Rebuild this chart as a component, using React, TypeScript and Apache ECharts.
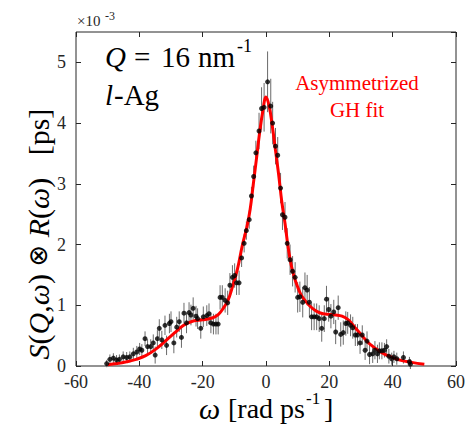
import React, { useEffect, useRef } from 'react';
import * as echarts from 'echarts';

// Measured data points: omega [rad/ps], S(Q,w)xR(w) [1e-3 ps], error bar half-height
const omega = [
  -50.3, -49.3, -48.2, -47.2, -46.3, -45.1, -44.0, -43.0, -41.9, -40.8, -39.9, -39.2,
  -38.2, -37.4, -36.4, -35.6, -35.0, -34.3, -33.7, -32.9, -31.9, -31.4, -30.5, -30.0,
  -29.1, -28.2, -27.4, -26.7, -25.9, -25.1, -24.3, -23.7, -23.0, -22.1, -21.6, -20.6,
  -19.8, -18.7, -18.0, -17.4, -16.6, -15.8, -15.1, -14.5, -13.8, -12.9, -12.1, -11.4,
  -10.6, -9.9, -9.3, -8.5, -7.7, -6.9, -6.2, -5.3, -4.6, -3.9, -3.2, -2.2, -1.4, -0.6,
  0.5, 1.5, 2.1, 3.0, 3.7, 4.6, 5.2, 6.0, 6.7, 7.6, 8.4, 9.2, 10.0, 10.7, 11.6, 12.3,
  13.0, 13.7, 14.4, 15.2, 16.0, 16.8, 17.6, 18.4, 19.1, 19.8, 20.5, 21.4, 22.0, 22.8,
  23.6, 24.4, 25.2, 25.8, 26.7, 27.4, 28.2, 28.9, 29.7, 30.4, 31.3, 31.9, 32.7, 33.7,
  34.4, 35.2, 35.8, 36.6, 37.4, 38.1, 38.8, 39.7, 40.4, 41.3, 43.4, 45.3, 45.6,
];
const sqw = [
  0.04, 0.11, 0.13, 0.10, 0.11, 0.15, 0.14, 0.15, 0.20, 0.23, 0.28, 0.26,
  0.45, 0.32, 0.32, 0.38, 0.18, 0.45, 0.62, 0.43, 0.67, 0.34, 0.70, 0.73,
  0.38, 0.64, 0.73, 0.47, 0.87, 0.71, 0.88, 0.84, 0.95, 0.82, 0.78, 0.62,
  0.81, 0.83, 0.86, 0.71, 0.69, 0.69, 0.69, 1.13, 1.13, 1.08, 1.04, 1.33,
  1.46, 1.49, 1.37, 1.37, 1.78, 2.02, 2.23, 2.41, 2.80, 3.12, 3.51, 3.87, 4.24, 4.26,
  4.68, 4.28, 4.00, 3.62, 3.47, 2.93, 2.49, 2.45, 2.02, 1.75, 1.56, 1.46, 1.13, 1.14, 1.05, 1.29,
  1.25, 1.05, 0.81, 0.81, 0.81, 0.78, 0.62, 0.78, 1.10, 0.93, 0.82, 0.89, 0.56, 0.96,
  0.52, 0.55, 0.70, 0.71, 0.67, 0.63, 0.51, 0.51, 0.38, 0.51, 0.26, 0.41, 0.19, 0.20,
  0.26, 0.20, 0.25, 0.25, 0.26, 0.32, 0.16, 0.12, 0.15, 0.12, 0.14, 0.07, 0.03,
];
const err = [
  0.06, 0.08, 0.08, 0.08, 0.08, 0.09, 0.09, 0.09, 0.10, 0.10, 0.10, 0.10,
  0.12, 0.12, 0.12, 0.14, 0.14, 0.14, 0.15, 0.15, 0.16, 0.16, 0.16, 0.17,
  0.17, 0.17, 0.17, 0.17, 0.17, 0.17, 0.17, 0.17, 0.18, 0.17, 0.17, 0.17,
  0.17, 0.17, 0.17, 0.17, 0.17, 0.17, 0.17, 0.20, 0.20, 0.20, 0.20, 0.20,
  0.20, 0.20, 0.20, 0.20, 0.15, 0.15, 0.15, 0.15, 0.15, 0.18, 0.20, 0.30, 0.35, 0.40,
  0.50, 0.45, 0.35, 0.30, 0.30, 0.25, 0.25, 0.25, 0.25, 0.25, 0.25, 0.25, 0.25, 0.25, 0.25, 0.25,
  0.25, 0.25, 0.22, 0.22, 0.22, 0.22, 0.22, 0.22, 0.22, 0.20, 0.20, 0.20, 0.20, 0.20,
  0.20, 0.20, 0.20, 0.18, 0.18, 0.18, 0.18, 0.18, 0.18, 0.16, 0.16, 0.16, 0.16, 0.15,
  0.15, 0.15, 0.14, 0.14, 0.12, 0.12, 0.12, 0.10, 0.10, 0.10, 0.10, 0.08, 0.08,
];

// Asymmetrized GH fit curve
const fitOmega = [
  -50, -47, -44, -41, -38, -35, -32, -29, -26, -23, -20, -17, -15, -13.5, -12, -10.5,
  -9, -7.5, -6, -5, -4, -3, -2, -1, 0, 1, 2, 3, 4, 5, 6, 7, 8, 9, 10, 11, 12, 14, 16,
  18, 20, 22, 24, 26, 28, 30, 32, 34, 36, 38, 42, 46, 50,
];
const fitValues = [
  0.02, 0.04, 0.07, 0.11, 0.17, 0.27, 0.40, 0.54, 0.67, 0.74, 0.76, 0.79, 0.85, 0.95, 1.08, 1.32,
  1.60, 1.98, 2.30, 2.58, 3.00, 3.42, 3.85, 4.20, 4.43, 4.28, 3.95, 3.55, 3.15, 2.70, 2.35, 1.95, 1.65, 1.45, 1.30, 1.18, 1.10, 0.98, 0.90,
  0.86, 0.85, 0.84, 0.82, 0.76, 0.64, 0.52, 0.40, 0.31, 0.24, 0.18, 0.10, 0.06, 0.03,
];

const xTicks = [-60, -40, -20, 0, 20, 40, 60];
const yTicks = [0, 1, 2, 3, 4, 5];

const FAM = "'Liberation Serif', 'Times New Roman', serif";
const AXIS = '#262626';
const font = (size: number, italic = false) => `${italic ? 'italic ' : ''}${size}px ${FAM}`;

const txt = (x: number, y: number, text: string, size: number, italic = false, fill = '#000', align = 'left') => ({
  type: 'text', x, y,
  style: { text, font: font(size, italic), fill, align, verticalAlign: 'middle' },
});

export default function App() {
  const ref = useRef<HTMLDivElement>(null);
  useEffect(() => {
    const chart = echarts.init(ref.current!, null, { renderer: 'svg' });
    const points = omega.map((w, i) => [w, sqw[i]]);
    const bars = omega.map((w, i) => [w, sqw[i] - err[i], sqw[i] + err[i]]);
    const fit = fitOmega.map((w, i) => [w, fitValues[i]]);

    const tickAxis = {
      axisLine: { show: false, onZero: false },
      axisTick: { inside: true, length: 5, lineStyle: { color: AXIS, width: 1 } },
      splitLine: { show: false },
    };

    chart.setOption({
      animation: false,
      grid: {
        left: 76, right: 14, top: 32, bottom: 60,
        show: true, borderColor: AXIS, borderWidth: 1, backgroundColor: '#fff',
      },
      xAxis: [
        {
          type: 'value', min: xTicks[0], max: xTicks[xTicks.length - 1], interval: 20,
          ...tickAxis,
          axisLabel: { fontFamily: 'Times New Roman', fontSize: 18, color: AXIS, margin: 7 },
        },
        {
          type: 'value', position: 'top', min: xTicks[0], max: xTicks[xTicks.length - 1], interval: 20,
          ...tickAxis, axisLabel: { show: false },
        },
      ],
      yAxis: [
        {
          type: 'value', min: yTicks[0], max: 5.5, interval: 1,
          ...tickAxis,
          axisLabel: { fontFamily: 'Times New Roman', fontSize: 18, color: AXIS, margin: 10, showMaxLabel: false },
        },
        {
          type: 'value', position: 'right', min: yTicks[0], max: 5.5, interval: 1,
          ...tickAxis, axisLabel: { show: false },
        },
      ],
      series: [
        {
          type: 'custom',
          data: bars,
          encode: { x: 0, y: [1, 2] },
          z: 1,
          renderItem: (params: any, api: any) => {
            const x = api.value(0);
            const lo = api.coord([x, api.value(1)]);
            const hi = api.coord([x, api.value(2)]);
            return {
              type: 'line',
              shape: { x1: lo[0], y1: lo[1], x2: hi[0], y2: hi[1] },
              style: { stroke: '#6a6a6a', lineWidth: 1 },
            };
          },
        },
        {
          type: 'line', data: fit, smooth: 0.4, showSymbol: false, z: 2,
          lineStyle: { color: '#ff0000', width: 3 },
        },
        {
          type: 'scatter', data: points, symbol: 'circle', symbolSize: 5, z: 3,
          itemStyle: { color: '#000' },
        },
      ],
      graphic: [
        txt(77, 21, '×10', 15, false, AXIS),
        txt(105, 16, '-3', 12, false, AXIS),

        txt(105, 57, 'Q', 29, true),
        txt(134, 57, '=', 29),
        txt(161, 57, '16', 29),
        txt(198, 57, 'nm', 29),
        txt(237, 46, '-1', 18),

        txt(105, 95, 'l', 29, true),
        txt(114, 95, '-Ag', 29),

        txt(357, 83, 'Asymmetrized', 21, false, '#ff0000', 'center'),
        txt(357, 110, 'GH fit', 21, false, '#ff0000', 'center'),

        txt(199, 408, 'ω', 30, true),
        txt(228, 408, '[rad ps', 28),
        txt(306, 398, '-1', 17),
        txt(324, 408, ']', 28),

        {
          type: 'text', x: 38, y: 234, rotation: Math.PI / 2,
          style: {
            text: '{i|S}{n|(}{i|Q}{n|,}{i|ω}{n|) }{o|⊗}{n| }{i|R}{n|(}{i|ω}{n|)   [ps]}',
            font: font(30), fill: '#000', align: 'center', verticalAlign: 'middle',
            rich: {
              i: { font: font(30, true), fill: '#000' },
              n: { font: font(30), fill: '#000' },
              o: { font: "26px 'DejaVu Sans', sans-serif", fill: '#000' },
            },
          },
        },
      ],
    });
    return () => chart.dispose();
  }, []);
  return (
    <div
      ref={ref}
      style={{ position: 'fixed', left: 0, top: 0, width: 470, height: 426, background: '#fff' }}
    />
  );
}
